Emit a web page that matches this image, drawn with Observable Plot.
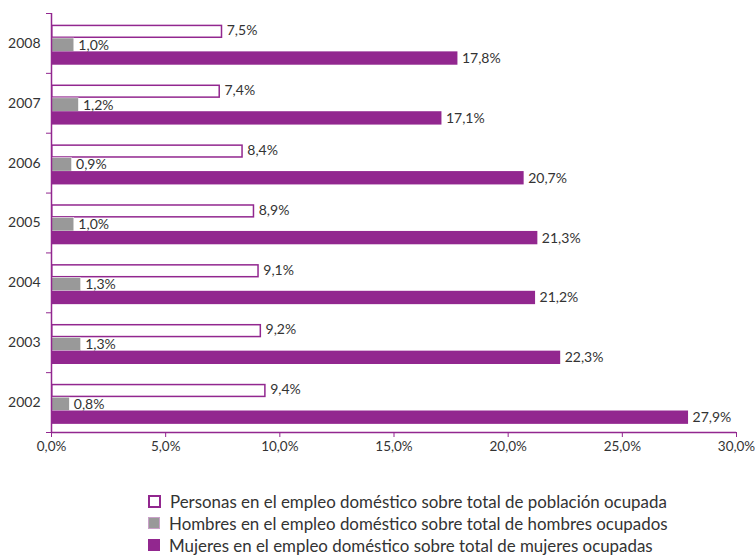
<!DOCTYPE html>
<html>
<head>
<meta charset="utf-8">
<script src="https://cdn.jsdelivr.net/npm/d3@7"></script>
<script src="https://cdn.jsdelivr.net/npm/@observablehq/plot@0.6"></script>
<style>
  body { margin: 0; background: #fff; font-family: Lato, "Open Sans", sans-serif; }
  #legend { margin: 20px 0 0 148px; color: #333; font-size: 16.9px; }
  .row { display: flex; align-items: center; height: 22px; }
  .sw { width: 9px; height: 9px; margin-right: 9px; box-sizing: content-box; }
</style>
</head>
<body>
<div id="chart"></div>
<div id="legend"></div>
<script>
const years = [2008, 2007, 2006, 2005, 2004, 2003, 2002];
const personas = [7.5, 7.4, 8.4, 8.9, 9.1, 9.2, 9.4];
const hombres = [1.0, 1.2, 0.9, 1.0, 1.3, 1.3, 0.8];
const mujeres = [17.8, 17.1, 20.7, 21.3, 21.2, 22.3, 27.9];
const seriesNames = [
  "Personas en el empleo doméstico sobre total de población ocupada",
  "Hombres en el empleo doméstico sobre total de hombres ocupados",
  "Mujeres en el empleo doméstico sobre total de mujeres ocupadas"
];
const xTicks = [0, 5, 10, 15, 20, 25, 30];

const PURPLE = "#92278F";
const GRAY = "#999999";
const TXT = "#333333";
const fmt = v => v.toFixed(1).replace(".", ",") + "%";

// slot offsets inside each year band (band = 1 unit)
const slots = [[0.195, 0.418], [0.418, 0.641], [0.641, 0.864]];
const seriesVals = [personas, hombres, mujeres];
const data = [];
years.forEach((yr, i) => {
  seriesVals.forEach((vals, s) => {
    data.push({year: yr, s, value: vals[i], y1: i + slots[s][0], y2: i + slots[s][1]});
  });
});

const chart = Plot.plot({
  width: 755,
  height: 470,
  marginTop: 13,
  marginBottom: 38,
  marginLeft: 51,
  marginRight: 19,
  style: {fontFamily: "Lato, 'Open Sans', sans-serif", fontSize: "12px", color: TXT, background: "#fff"},
  x: {domain: [0, 30]},
  y: {domain: [0, 7], reverse: true},
  marks: [
    Plot.rect(data.filter(d => d.s === 0), {x1: 0, x2: "value", y1: "y1", y2: "y2", fill: "white", stroke: PURPLE, strokeWidth: 1.5, inset: 0.75}),
    Plot.rect(data.filter(d => d.s === 1), {x1: 0, x2: "value", y1: "y1", y2: "y2", fill: GRAY, stroke: "white", strokeWidth: 0.5}),
    Plot.rect(data.filter(d => d.s === 2), {x1: 0, x2: "value", y1: "y1", y2: "y2", fill: PURPLE}),
    Plot.text(data, {x: "value", y: d => (d.y1 + d.y2) / 2 - (d.s === 0 ? 0.02 : 0), text: d => fmt(d.value), textAnchor: "start", dx: 4, fill: TXT, fontSize: 14}),
    Plot.ruleX([0], {y1: 0, y2: 7, stroke: PURPLE, strokeWidth: 1.5}),
    Plot.ruleY([7], {x1: 0, x2: 30, stroke: PURPLE, strokeWidth: 1.5}),
    Plot.axisX({ticks: xTicks, tickSize: 5, tickPadding: 4, stroke: PURPLE, fill: TXT, tickFormat: fmt, fontSize: 13.5, label: null}),
    Plot.axisY({ticks: d3.range(0, 8), tickSize: 5, stroke: PURPLE, tickFormat: () => "", label: null}),
    Plot.axisY({ticks: years.map((_, i) => i + 0.5), tickSize: 0, tickPadding: 11, fill: TXT, tickFormat: v => String(years[Math.floor(v)]), fontSize: 14, label: null})
  ]
});
document.getElementById("chart").appendChild(chart);

const styles = [
  {background: "white", border: `2px solid ${PURPLE}`},
  {background: GRAY, border: `1px solid #c9a0c8`},
  {background: PURPLE, border: `1px solid ${PURPLE}`}
];
const legend = document.getElementById("legend");
seriesNames.forEach((name, i) => {
  const row = document.createElement("div");
  row.className = "row";
  const sw = document.createElement("span");
  sw.className = "sw";
  Object.assign(sw.style, styles[i]);
  if (i > 0) { sw.style.width = "10px"; sw.style.height = "10px"; }
  const t = document.createElement("span");
  t.textContent = name;
  row.appendChild(sw);
  row.appendChild(t);
  legend.appendChild(row);
});
</script>
</body>
</html>
